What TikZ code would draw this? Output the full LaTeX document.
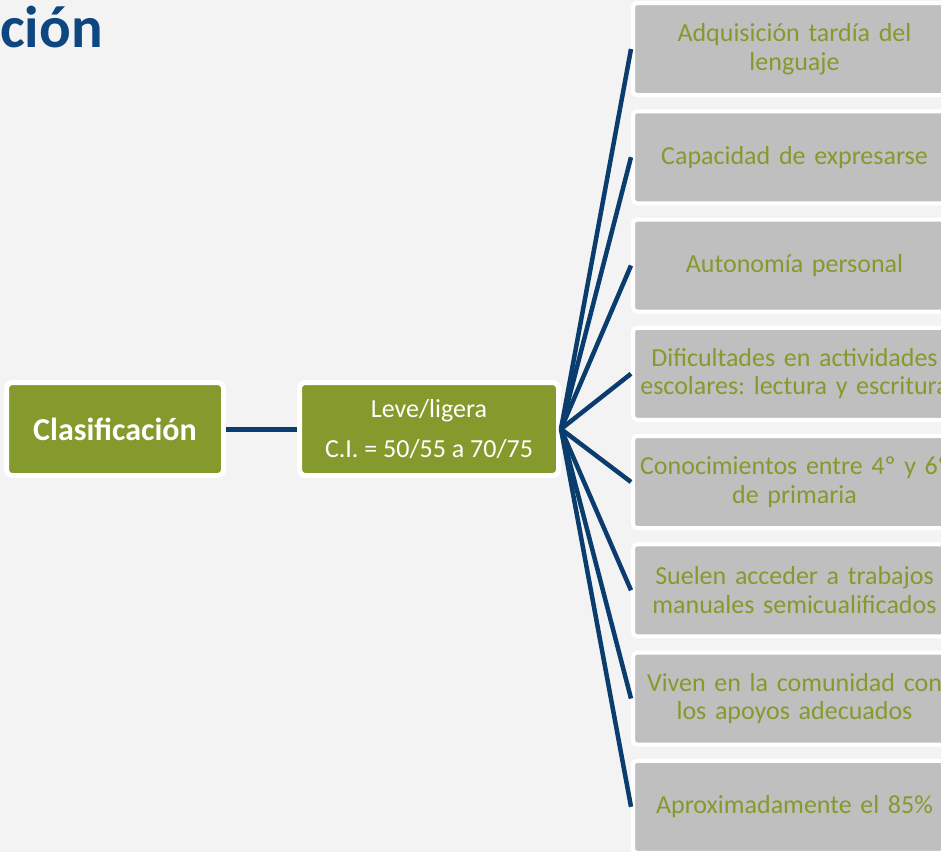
\documentclass[tikz,border=0pt]{standalone}
\usepackage{fontspec}
\setmainfont{Carlito}
\usepackage{xcolor}
\usepackage{tikz}
\definecolor{paper}{RGB}{243,243,243}
\definecolor{leafgreen}{RGB}{132,154,45}
\definecolor{boxgrey}{RGB}{191,191,191}
\definecolor{navyline}{RGB}{10,60,110}
\definecolor{titleblue}{RGB}{14,70,128}
\frenchspacing

\begin{document}
\begin{tikzpicture}[x=1pt, y=-1pt,
  greenbox/.style={rectangle, rounded corners=6pt, draw=white, line width=5pt, fill=leafgreen, text=white, minimum height=93pt, align=center},
  greybox/.style={rectangle, rounded corners=4pt, draw=white, line width=4pt, fill=boxgrey, text=leafgreen, minimum height=92pt, text width=320pt, inner sep=1.5pt, align=center, font=\fontsize{26}{28.5}\selectfont},
  link/.style={draw=navyline, line width=4.5pt}]
\fill[paper] (0,0) rectangle (941,852);
\useasboundingbox (0,0) rectangle (941,852);

% Title
\node[anchor=base west, inner sep=0pt, text=titleblue, font=\fontsize{59}{62}\selectfont\bfseries] (title) at (0,47) {ción};

% Boxes
\node[greenbox, minimum width=217pt, font=\fontsize{32}{36}\selectfont\bfseries] (clas) at (115,429) {Clasificación};
\node[greenbox, minimum width=259pt, font=\fontsize{26}{40}\selectfont] (leve) at (429,429) {Leve/ligera\\C.I. = 50/55 a 70/75};
\node[greybox] (b1) at (794.5,49) {Adquisición tardía del\\lenguaje};
\node[greybox] (b2) at (794.5,157.25) {Capacidad de expresarse};
\node[greybox] (b3) at (794.5,265.5) {Autonomía personal};
\node[greybox] (b4) at (794.5,373.75) {Dificultades en actividades\\escolares: lectura y escritura};
\node[greybox] (b5) at (794.5,482) {Conocimientos entre 4º y 6º\\de primaria};
\node[greybox] (b6) at (794.5,590.25) {Suelen acceder a trabajos\\manuales semicualificados};
\node[greybox] (b7) at (794.5,698.5) {Viven en la comunidad con\\los apoyos adecuados};
\node[greybox] (b8) at (794.5,806.75) {Aproximadamente el 85\%};

%Lines
\draw[link, line width=5pt] (clas) -- (leve);
\draw[link] (leve.east) -- (b1.west);
\draw[link] (leve.east) -- (b2.west);
\draw[link] (leve.east) -- (b3.west);
\draw[link] (leve.east) -- (b4.west);
\draw[link] (leve.east) -- (b5.west);
\draw[link] (leve.east) -- (b6.west);
\draw[link] (leve.east) -- (b7.west);
\draw[link] (leve.east) -- (b8.west);
\end{tikzpicture}
\end{document}
